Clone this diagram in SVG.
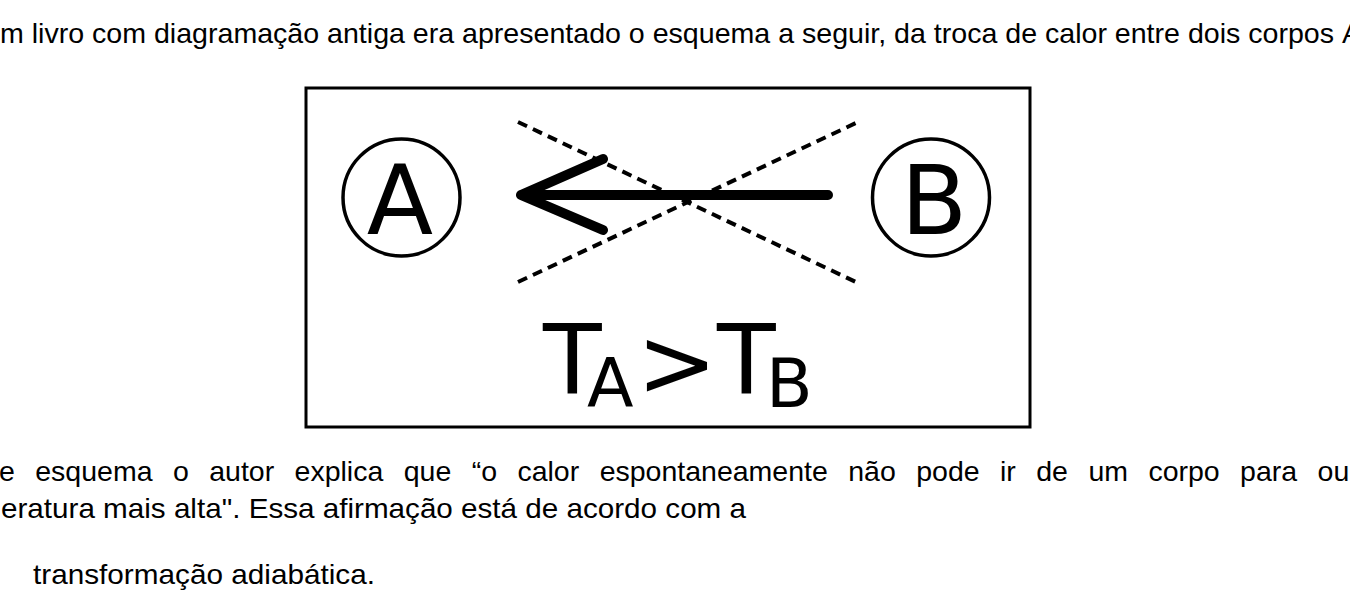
<svg xmlns="http://www.w3.org/2000/svg" width="1350" height="600" viewBox="0 0 1350 600">
<style>
.body{font-family:"Liberation Sans",Arial,sans-serif;font-size:28.5px;fill:#000}
.dv{font-family:"DejaVu Sans",sans-serif;fill:#000}
.ring{fill:none;stroke:#000;stroke-width:3.5}
.dash{fill:none;stroke:#000;stroke-width:4;stroke-dasharray:10 6.5}
.arrow{fill:none;stroke:#000;stroke-width:10;stroke-linecap:round;stroke-linejoin:round}
</style>
<rect width="1350" height="600" fill="#fff"/>
<g id="intro">
<text class="body" x="0" y="43" textLength="1334" lengthAdjust="spacingAndGlyphs">m livro com diagramação antiga era apresentado o esquema a seguir, da troca de calor entre dois corpos</text>
<text class="body" x="1342" y="43">A</text>
</g>
<g id="frame"><rect x="306" y="88" width="724" height="339" fill="none" stroke="#000" stroke-width="3"/></g>
<g id="nodeA"><circle class="ring" cx="401.5" cy="197.5" r="58.5"/><text class="dv" x="400" y="234" font-size="97" text-anchor="middle">A</text></g>
<g id="nodeB"><circle class="ring" cx="931" cy="197.5" r="58.5"/><text class="dv" x="934" y="234" font-size="97" text-anchor="middle">B</text></g>
<g id="connectors">
<line class="dash" x1="518" y1="122" x2="858" y2="283"/>
<line class="dash" x1="518" y1="282" x2="858" y2="122"/>
<path class="arrow" d="M828,195 L521,195 M603,159 L521,195 L603,230"/>
</g>
<g id="relation">
<text class="dv" x="543" y="393" font-size="96">T</text>
<text class="dv" x="587" y="407" font-size="68">A</text>
<text class="dv" x="677" y="396" font-size="96" text-anchor="middle">&gt;</text>
<text class="dv" x="717" y="393" font-size="96">T</text>
<text class="dv" x="766" y="407" font-size="68">B</text>
</g>
<g id="question">
<text class="body" x="-1" y="481" word-spacing="12.5">e esquema o autor explica que “o calor espontaneamente não pode ir de um corpo para ou</text>
<text class="body" x="1" y="518" textLength="745" lengthAdjust="spacingAndGlyphs">eratura mais alta". Essa afirmação está de acordo com a</text>
<text class="body" x="33" y="584" textLength="342" lengthAdjust="spacingAndGlyphs">transformação adiabática.</text>
</g>
</svg>
